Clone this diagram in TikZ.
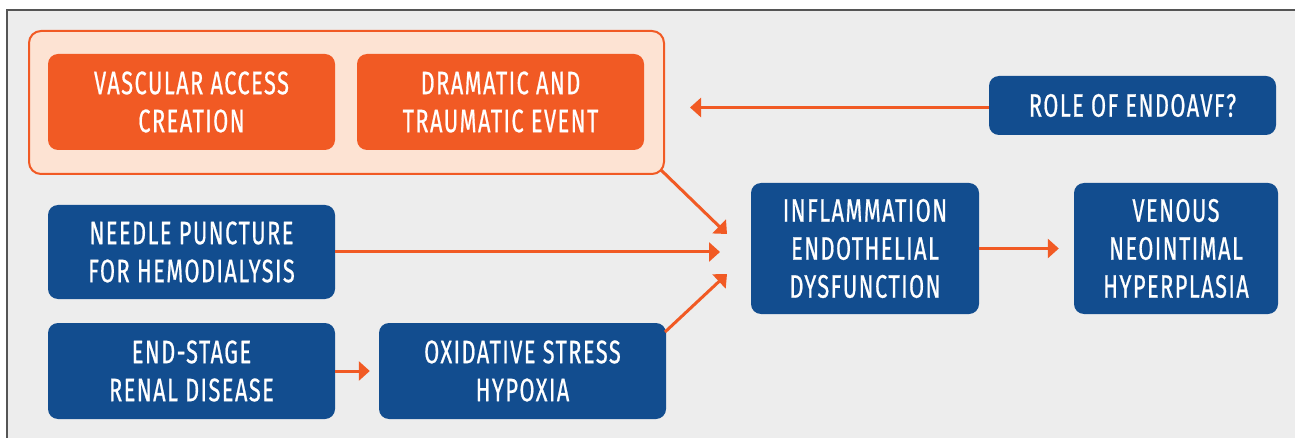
\documentclass[tikz,border=0pt]{standalone}
\usepackage{fontspec}
\setmainfont[FakeStretch=0.67,LetterSpace=4.5,FakeBold=0.6]{Fira Sans}
\usetikzlibrary{arrows.meta}
\definecolor{orng}{HTML}{F15A24}
\definecolor{peach}{HTML}{FDE3D3}
\definecolor{navy}{HTML}{124D8F}
\definecolor{panel}{HTML}{EDEDED}
\definecolor{rim}{HTML}{555555}
\tikzset{
  box/.style={rounded corners=10pt, align=center, text=white, inner sep=0pt,
    font=\fontsize{32.5}{38}\selectfont},
  bluebox/.style={box, fill=navy},
  orangebox/.style={box, fill=orng},
  conn/.style={draw=orng, line width=3pt, -{Triangle[length=11pt,width=19pt]}}
}
\begin{document}
\begin{tikzpicture}[x=1pt,y=-1pt]
\useasboundingbox (0,0) rectangle (1295,438);
\fill[white] (0,0) rectangle (1295,438);
\fill[panel] (7,10) rectangle (1300,445);
\draw[rim, line width=1.5pt] (7,445) -- (7,10) -- (1300,10);

\node[draw=orng, line width=2pt, fill=peach, rounded corners=12pt,
  minimum width=635pt, minimum height=143pt, inner sep=0pt] (group) at (346.5,102.5) {};
\node[orangebox, minimum width=287pt, minimum height=96pt] (vac) at (191.5,102) {VASCULAR ACCESS\\CREATION};
\node[orangebox, minimum width=287pt, minimum height=96pt] (dram) at (500.5,102) {DRAMATIC AND\\TRAUMATIC EVENT};
\node[bluebox, minimum width=287pt, minimum height=59pt] (role) at (1132.5,105.5) {ROLE OF ENDOAVF?};
\node[bluebox, minimum width=287pt, minimum height=94pt] (needle) at (191.5,252) {NEEDLE PUNCTURE\\FOR HEMODIALYSIS};
\node[bluebox, minimum width=287pt, minimum height=96pt] (esrd) at (191.5,371) {END-STAGE\\RENAL DISEASE};
\node[bluebox, minimum width=287pt, minimum height=96pt] (oxid) at (522.5,371) {OXIDATIVE STRESS\\HYPOXIA};
\node[bluebox, minimum width=228pt, minimum height=131pt] (infl) at (865,248.5) {INFLAMMATION\\ENDOTHELIAL\\DYSFUNCTION};
\node[bluebox, minimum width=204pt, minimum height=131pt] (ven) at (1176,248.5) {VENOUS\\NEOINTIMAL\\HYPERPLASIA};

\coordinate (roletip) at (690,107.5);
\coordinate (t1) at (727,234);
\coordinate (t2) at (720,252);
\coordinate (t3) at (727,274);
\coordinate (gcorner) at (661,170);
\coordinate (ocorner) at (665,332);

\draw[conn] (role.west |- roletip) -- (roletip);
\draw[conn] (gcorner) -- (t1);
\draw[conn] (needle.east) -- (t2);
\draw[conn] (ocorner) -- (t3);
\draw[conn, shorten >=15pt] (infl.east) -- (ven.west);
\draw[conn, shorten >=9pt] (esrd.east) -- (oxid.west);
\end{tikzpicture}
\end{document}
